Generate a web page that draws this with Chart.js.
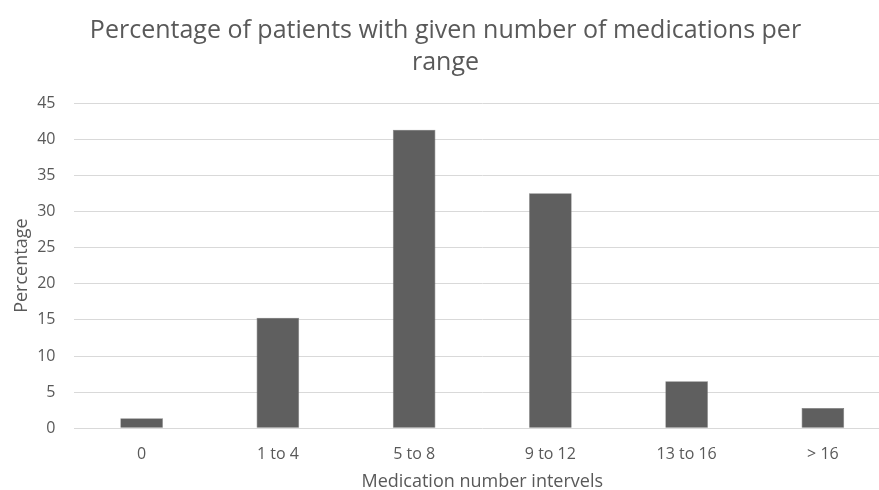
<!DOCTYPE html>
<html>
<head>
<meta charset="utf-8">
<script src="https://cdn.jsdelivr.net/npm/chart.js@4/dist/chart.umd.min.js"></script>
<style>
  html, body { margin: 0; padding: 0; background: #fff; overflow: hidden; }
  #wrap { width: 896px; height: 490px; position: relative; }
</style>
</head>
<body>
<div id="wrap"><canvas id="chart"></canvas></div>
<script>
// Medication count ranges and the share of patients in each
const categories = ['0', '1 to 4', '5 to 8', '9 to 12', '13 to 16', '> 16'];
const percentages = [1.4, 15.3, 41.3, 32.5, 6.5, 2.8];
const titleLines = ['Percentage of patients with given number of medications per', 'range'];
const xAxisTitle = 'Medication number intervels';
const yAxisTitle = 'Percentage';

const textColor = '#595959';
const fontFamily = '"Open Sans", Lato, sans-serif';

new Chart(document.getElementById('chart'), {
  type: 'bar',
  data: {
    labels: categories,
    datasets: [{
      data: percentages,
      backgroundColor: '#5f5f5f',
      borderColor: '#7a7a7a',
      borderWidth: 0.6,
      barPercentage: 0.313,
      categoryPercentage: 1.0
    }]
  },
  options: {
    responsive: true,
    maintainAspectRatio: false,
    animation: false,
    layout: { padding: { left: 0, right: 5, top: 0, bottom: 0 } },
    plugins: {
      legend: { display: false },
      tooltip: { enabled: false },
      title: {
        display: true,
        text: titleLines,
        color: textColor,
        font: { family: fontFamily, size: 25, weight: 'normal', lineHeight: 1.28 },
        padding: { top: 15, bottom: 24 }
      }
    },
    scales: {
      x: {
        grid: { display: false, drawTicks: false },
        border: { display: false },
        ticks: { color: textColor, font: { family: fontFamily, size: 16 }, padding: 17 },
        title: {
          display: true,
          text: xAxisTitle,
          color: textColor,
          font: { family: fontFamily, size: 18 },
          padding: { top: 0, bottom: -3 }
        },
        afterFit(scale) { scale.height = 61.7; }
      },
      y: {
        min: 0,
        max: 45,
        ticks: { stepSize: 5, color: textColor, font: { family: fontFamily, size: 16 }, padding: 18 },
        grid: { color: '#d9d9d9', lineWidth: 1, drawTicks: false },
        border: { display: false },
        title: {
          display: true,
          text: yAxisTitle,
          color: textColor,
          font: { family: fontFamily, size: 18 },
          padding: { top: 11, bottom: 0 }
        },
        afterFit(scale) { scale.width = 73.5; }
      }
    }
  }
});
</script>
</body>
</html>
